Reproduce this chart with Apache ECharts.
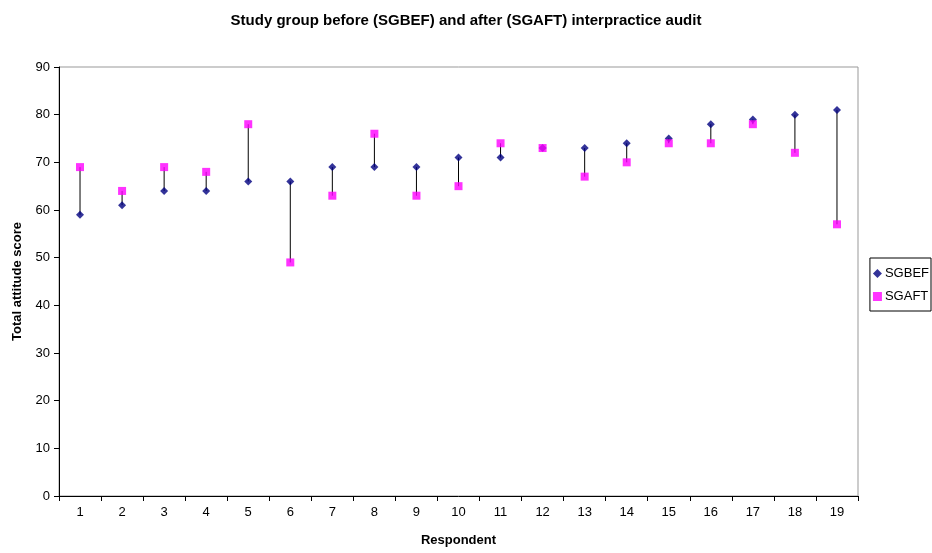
<!DOCTYPE html>
<html>
<head>
<meta charset="utf-8">
<script src="https://cdn.jsdelivr.net/npm/echarts@6/dist/echarts.min.js"></script>
<style>html,body{margin:0;padding:0;background:#fff;}#c{width:932px;height:553px;}</style>
</head>
<body>
<div id="c"></div>
<script>
const respondents = ['1','2','3','4','5','6','7','8','9','10','11','12','13','14','15','16','17','18','19'];
const sgbef = [59,61,64,64,66,66,69,69,69,71,71,73,73,74,75,78,79,80,81];
const sgaft = [69,64,69,68,78,49,63,76,63,65,74,73,67,70,74,74,78,72,57];
const yTicks = [0,10,20,30,40,50,60,70,80,90];

const ranges = respondents.map((r, i) => [i, Math.min(sgbef[i], sgaft[i]), Math.max(sgbef[i], sgaft[i])]);
const font = 'Liberation Sans, Arial, sans-serif';

const chart = echarts.init(document.getElementById('c'));
chart.setOption({
  animation: false,
  backgroundColor: '#fff',
  title: {
    text: 'Study group before (SGBEF) and after (SGAFT) interpractice audit',
    left: 'center', top: 8,
    textStyle: {fontFamily: font, fontSize: 15, fontWeight: 'bold', color: '#000'}
  },
  legend: {
    orient: 'vertical', right: 1, top: 258,
    itemWidth: 9, itemHeight: 9, itemGap: 10,
    itemStyle: {borderWidth: 0},
    padding: [9, 2, 8, 3],
    borderColor: '#000', borderWidth: 1,
    textStyle: {fontFamily: font, fontSize: 13, color: '#000', padding: [0, 0, 0, -2]},
    data: [{name: 'SGBEF', icon: 'diamond'}, {name: 'SGAFT', icon: 'rect'}]
  },
  grid: {left: 59, right: 74, top: 67, bottom: 57, show: true, borderColor: '#999', borderWidth: 1},
  xAxis: {
    type: 'category', data: respondents, boundaryGap: true,
    name: 'Respondent', nameLocation: 'middle', nameGap: 38,
    nameTextStyle: {fontFamily: font, fontSize: 13, fontWeight: 'bold', color: '#000'},
    axisLine: {lineStyle: {color: '#000', width: 1}},
    axisTick: {show: true, length: 5, lineStyle: {color: '#000'}, alignWithLabel: false},
    axisLabel: {fontFamily: font, fontSize: 13, color: '#000', margin: 10},
    splitLine: {show: false}
  },
  yAxis: {
    type: 'value', min: 0, max: 90, interval: 10,
    name: 'Total attitude score', nameLocation: 'middle', nameGap: 35, nameRotate: 90,
    nameTextStyle: {fontFamily: font, fontSize: 13, fontWeight: 'bold', color: '#000'},
    axisLine: {show: true, lineStyle: {color: '#000', width: 1}},
    axisTick: {show: true, length: 5, lineStyle: {color: '#000'}},
    axisLabel: {fontFamily: font, fontSize: 13, color: '#000', margin: 9,
      formatter: v => yTicks.includes(v) ? String(v) : ''},
    splitLine: {show: false}
  },
  series: [
    {
      name: 'drop', type: 'custom', data: ranges, silent: true, z: 1,
      renderItem: function (params, api) {
        const p1 = api.coord([api.value(0), api.value(1)]);
        const p2 = api.coord([api.value(0), api.value(2)]);
        return {type: 'line', shape: {x1: p1[0], y1: p1[1], x2: p2[0], y2: p2[1]},
          style: {stroke: '#000', lineWidth: 1}};
      }
    },
    {
      name: 'SGBEF', type: 'scatter', data: sgbef, symbol: 'diamond', symbolSize: 8, z: 2,
      itemStyle: {color: '#000080'}
    },
    {
      name: 'SGAFT', type: 'scatter', data: sgaft, symbol: 'rect', symbolSize: 8, z: 3,
      itemStyle: {color: '#FF00FF'}
    }
  ]
});
</script>
</body>
</html>
